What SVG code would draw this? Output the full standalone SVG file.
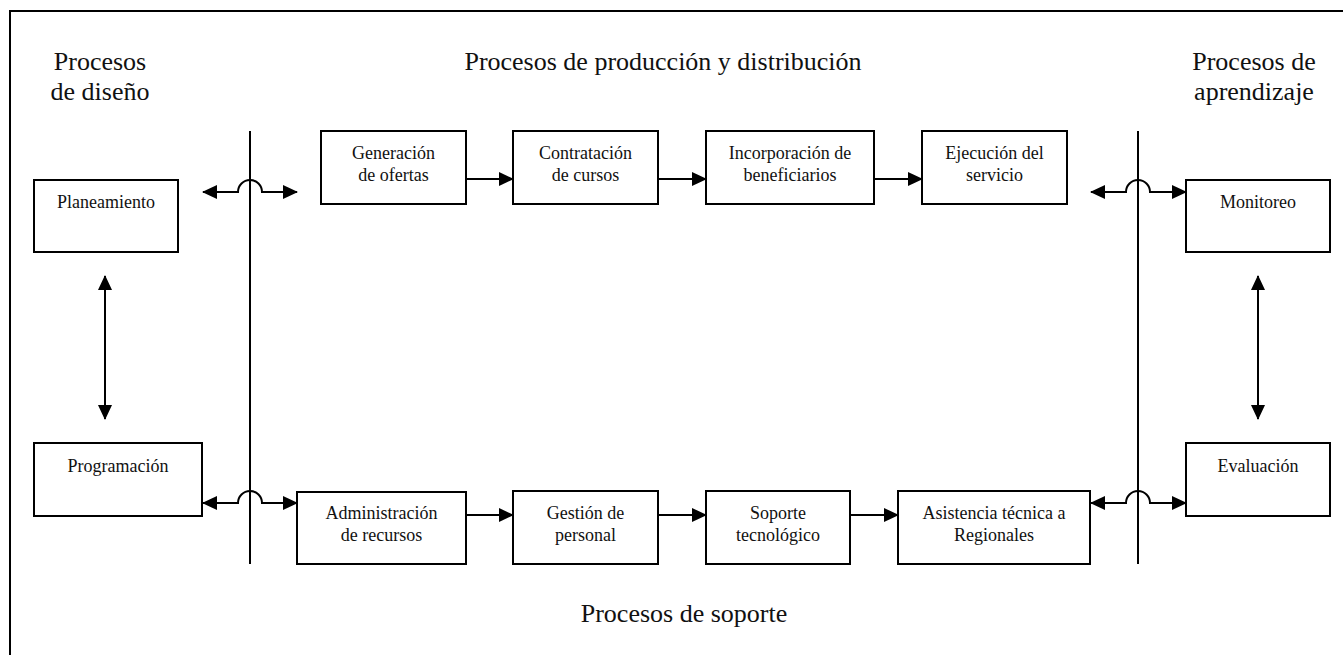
<svg xmlns="http://www.w3.org/2000/svg" width="1343" height="655" viewBox="0 0 1343 655">
<style>
.box{fill:#fff;stroke:#000;stroke-width:2}
.t{font-family:"Liberation Serif","Times New Roman",serif;font-size:18px;fill:#111;text-anchor:middle}
.h{font-family:"Liberation Serif","Times New Roman",serif;font-size:26px;fill:#111;text-anchor:middle}
.c{fill:none;stroke:#000;stroke-width:2}
.v{fill:none;stroke:#000;stroke-width:2}
</style>
<defs>
<marker id="ah" markerUnits="userSpaceOnUse" markerWidth="16" markerHeight="16" refX="14" refY="7" orient="auto-start-reverse" viewBox="0 0 16 14">
<path d="M0,0 L15,7 L0,14 z" fill="#000"/>
</marker>
</defs>
<rect x="0" y="0" width="1343" height="655" fill="#fff"/>
<rect x="10" y="11" width="1345" height="660" fill="none" stroke="#000" stroke-width="2"/>

<g id="titles">
<text class="h" x="100" y="70">Procesos</text>
<text class="h" x="100" y="100">de diseño</text>
<text class="h" x="663" y="70" font-size="25.5">Procesos de producción y distribución</text>
<text class="h" x="1254" y="70">Procesos de</text>
<text class="h" x="1254" y="100">aprendizaje</text>
<text class="h" x="684" y="622" font-size="27">Procesos de soporte</text>
</g>

<g id="dividers">
<line class="v" x1="250" y1="131" x2="250" y2="564"/>
<line class="v" x1="1138" y1="131" x2="1138" y2="564"/>
</g>

<g id="planeamiento"><rect class="box" x="34" y="180" width="144" height="72"/><text class="t" x="106" y="208">Planeamiento</text></g>
<g id="programacion"><rect class="box" x="34" y="443" width="168" height="73"/><text class="t" x="118" y="472">Programación</text></g>

<g id="generacion"><rect class="box" x="321" y="131" width="145" height="73"/><text class="t" x="393.5" y="159">Generación</text><text class="t" x="393.5" y="181">de ofertas</text></g>
<g id="contratacion"><rect class="box" x="513" y="131" width="145" height="73"/><text class="t" x="585.5" y="159">Contratación</text><text class="t" x="585.5" y="181">de cursos</text></g>
<g id="incorporacion"><rect class="box" x="706" y="131" width="168" height="73"/><text class="t" x="790" y="159">Incorporación de</text><text class="t" x="790" y="181">beneficiarios</text></g>
<g id="ejecucion"><rect class="box" x="922" y="131" width="145" height="73"/><text class="t" x="994.5" y="159">Ejecución del</text><text class="t" x="994.5" y="181">servicio</text></g>

<g id="administracion"><rect class="box" x="297" y="492" width="169" height="72"/><text class="t" x="381.5" y="519">Administración</text><text class="t" x="381.5" y="541">de recursos</text></g>
<g id="gestion"><rect class="box" x="513" y="491" width="145" height="73"/><text class="t" x="585.5" y="519">Gestión de</text><text class="t" x="585.5" y="541">personal</text></g>
<g id="soporte"><rect class="box" x="706" y="491" width="144" height="73"/><text class="t" x="778" y="519">Soporte</text><text class="t" x="778" y="541">tecnológico</text></g>
<g id="asistencia"><rect class="box" x="898" y="491" width="192" height="73"/><text class="t" x="994" y="519">Asistencia técnica a</text><text class="t" x="994" y="541">Regionales</text></g>

<g id="monitoreo"><rect class="box" x="1186" y="180" width="144" height="72"/><text class="t" x="1258" y="208">Monitoreo</text></g>
<g id="evaluacion"><rect class="box" x="1186" y="443" width="144" height="73"/><text class="t" x="1258" y="472">Evaluación</text></g>

<g id="connectors">
<line class="c" x1="466" y1="179" x2="513" y2="179" marker-end="url(#ah)"/>
<line class="c" x1="658" y1="179" x2="706" y2="179" marker-end="url(#ah)"/>
<line class="c" x1="874" y1="179" x2="922" y2="179" marker-end="url(#ah)"/>
<line class="c" x1="466" y1="515" x2="513" y2="515" marker-end="url(#ah)"/>
<line class="c" x1="658" y1="515" x2="706" y2="515" marker-end="url(#ah)"/>
<line class="c" x1="850" y1="515" x2="898" y2="515" marker-end="url(#ah)"/>
<line class="c" x1="105" y1="276" x2="105" y2="419" marker-start="url(#ah)" marker-end="url(#ah)"/>
<line class="c" x1="1258" y1="276" x2="1258" y2="419" marker-start="url(#ah)" marker-end="url(#ah)"/>
<path class="c" d="M203,192 H238 A12,12 0 0 1 262,192 H297" marker-start="url(#ah)" marker-end="url(#ah)"/>
<path class="c" d="M203,503 H238 A12,12 0 0 1 262,503 H297" marker-start="url(#ah)" marker-end="url(#ah)"/>
<path class="c" d="M1091,192 H1126 A12,12 0 0 1 1150,192 H1186" marker-start="url(#ah)" marker-end="url(#ah)"/>
<path class="c" d="M1091,503 H1126 A12,12 0 0 1 1150,503 H1186" marker-start="url(#ah)" marker-end="url(#ah)"/>
</g>
</svg>
